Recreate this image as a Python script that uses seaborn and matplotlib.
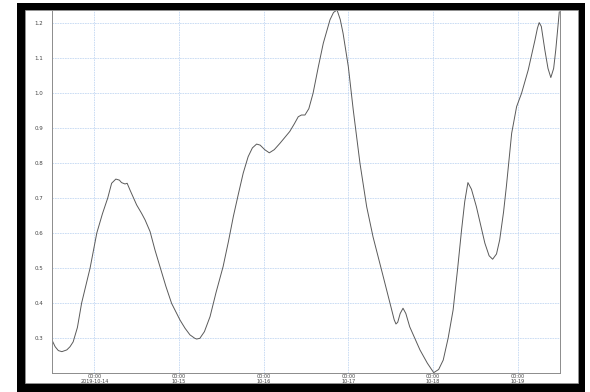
import matplotlib
matplotlib.use("Agg")
import matplotlib.pyplot as plt
import matplotlib.dates as mdates
from matplotlib.patches import Rectangle
from matplotlib.ticker import MultipleLocator
import pandas as pd
import seaborn as sns

# Series readings: hours after 2019-10-13 12:00 and the measured value
start = "2019-10-13 12:00"
hours = [0.0, 0.9, 1.8, 2.8, 4.2, 5.1, 6.0, 7.2, 8.4, 9.6, 10.8, 12.7,
         14.3, 15.8, 16.9, 18.1, 19.1, 19.7, 20.7, 21.3, 22.1, 24.0, 25.4,
         26.4, 27.8, 29.2, 30.6, 32.3, 33.9, 36.3, 37.7, 39.1, 40.5, 41.0,
         41.9, 43.2, 44.8, 46.5, 48.5, 50.0, 51.4, 52.8, 54.2, 55.6, 56.8,
         58.0, 59.0, 60.3, 61.6, 63.0, 64.6, 67.4, 68.7, 69.8, 70.7, 71.7,
         72.8, 74.0, 75.5, 76.9, 78.8, 79.8, 80.8, 81.7, 82.5, 84.0, 85.4,
         87.3, 89.2, 91.0, 93.9, 96.3, 97.0, 97.5, 98.0, 98.7, 99.5, 100.3,
         101.4, 104.3, 106.4, 108.2, 109.6, 110.9, 112.3, 113.7, 115.0,
         116.1, 117.0, 117.9, 118.9, 120.3, 122.7, 123.9, 124.9, 126.0,
         126.9, 128.0, 128.8, 130.3, 131.7, 133.1, 135.0, 136.9, 137.6,
         138.1, 138.7, 139.7, 140.6, 141.4, 142.2, 142.8, 143.8]
values = [0.294, 0.275, 0.264, 0.261, 0.266, 0.275, 0.289, 0.330, 0.400,
          0.450, 0.500, 0.600, 0.655, 0.700, 0.742, 0.754, 0.751, 0.744,
          0.740, 0.742, 0.723, 0.680, 0.656, 0.637, 0.604, 0.551, 0.504,
          0.447, 0.399, 0.351, 0.328, 0.309, 0.299, 0.297, 0.299, 0.318,
          0.361, 0.430, 0.504, 0.575, 0.647, 0.710, 0.771, 0.818, 0.843,
          0.854, 0.851, 0.838, 0.829, 0.838, 0.856, 0.890, 0.912, 0.932,
          0.937, 0.937, 0.955, 0.999, 1.075, 1.142, 1.209, 1.230, 1.237,
          1.210, 1.171, 1.075, 0.951, 0.799, 0.675, 0.589, 0.475, 0.380,
          0.352, 0.340, 0.345, 0.370, 0.385, 0.370, 0.332, 0.266, 0.228,
          0.201, 0.210, 0.237, 0.300, 0.380, 0.500, 0.609, 0.690, 0.744,
          0.725, 0.675, 0.571, 0.535, 0.525, 0.540, 0.580, 0.660, 0.733,
          0.885, 0.961, 0.999, 1.066, 1.151, 1.185, 1.201, 1.190, 1.123,
          1.070, 1.044, 1.070, 1.123, 1.232]

# Axis ticks
day_ticks = ["2019-10-14", "2019-10-15", "2019-10-16", "2019-10-17",
             "2019-10-18", "2019-10-19"]
day_labels = ["00:00\n2019-10-14", "00:00\n10-15", "00:00\n10-16",
              "00:00\n10-17", "00:00\n10-18", "00:00\n10-19"]
y_ticks = [0.3, 0.4, 0.5, 0.6, 0.7, 0.8, 0.9, 1.0, 1.1, 1.2]
y_labels = ["0.3", "0.4", "0.5", "0.6", "0.7", "0.8", "0.9", "1.0", "1.1", "1.2"]

df = pd.DataFrame({
    "time": pd.Timestamp(start) + pd.to_timedelta(hours, unit="h"),
    "value": values,
})

sns.set_theme(style="white")
plt.rcParams["font.family"] = ["DejaVu Sans"]

W, H = 590, 392
fig = plt.figure(figsize=(W / 100, H / 100), dpi=100)
fig.patch.set_facecolor("white")

# Picture frame: black border around a white panel
fig.patches.append(Rectangle((17 / W, 0), (585 - 17) / W, 389 / H,
                             transform=fig.transFigure, facecolor="black",
                             edgecolor="none", zorder=0))
fig.patches.append(Rectangle((25 / W, 9 / H), (578 - 25) / W, (382 - 9) / H,
                             transform=fig.transFigure, facecolor="white",
                             edgecolor="#9a9a9a", linewidth=0.5, zorder=0.5))

ax = fig.add_axes([52 / W, (H - 373) / H, (560 - 52) / W, (373 - 10) / H])
ax.set_zorder(2)
ax.set_facecolor("white")

sns.lineplot(data=df, x="time", y="value", ax=ax, color="#5a5a5a",
             linewidth=0.7)

ax.set_xlim(pd.Timestamp(start), pd.Timestamp(start) + pd.Timedelta(hours=144))
ax.set_ylim(0.2, 1.237)

ax.set_xticks(pd.to_datetime(day_ticks))
ax.set_xticklabels(day_labels)
ax.xaxis.set_minor_locator(mdates.HourLocator(interval=2))
ax.set_yticks(y_ticks)
ax.set_yticklabels(y_labels)
ax.yaxis.set_minor_locator(MultipleLocator(0.01))

ax.set_xlabel("")
ax.set_ylabel("")

ax.grid(True, which="major", color="#c4d8f2", linestyle=(0, (2, 1)),
        linewidth=0.6)
ax.set_axisbelow(True)

for side in ["left", "bottom", "right", "top"]:
    ax.spines[side].set_color("#8c8c8c")
    ax.spines[side].set_linewidth(0.7)

ax.tick_params(axis="y", which="major", direction="out", length=2.2,
               width=0.5, color="#8c8c8c", labelsize=4, labelcolor="#444444",
               pad=4)
ax.tick_params(axis="y", which="minor", direction="out", length=1.3,
               width=0.4, color="#8c8c8c")
ax.tick_params(axis="x", which="major", direction="in", length=2.2,
               width=0.5, color="#8c8c8c", labelsize=3.5, labelcolor="#444444",
               pad=1)
ax.tick_params(axis="x", which="minor", direction="in", length=1.3,
               width=0.4, color="#8c8c8c")
for lbl in ax.get_xticklabels():
    lbl.set_linespacing(0.8)

fig.savefig("out.png", dpi=100)
